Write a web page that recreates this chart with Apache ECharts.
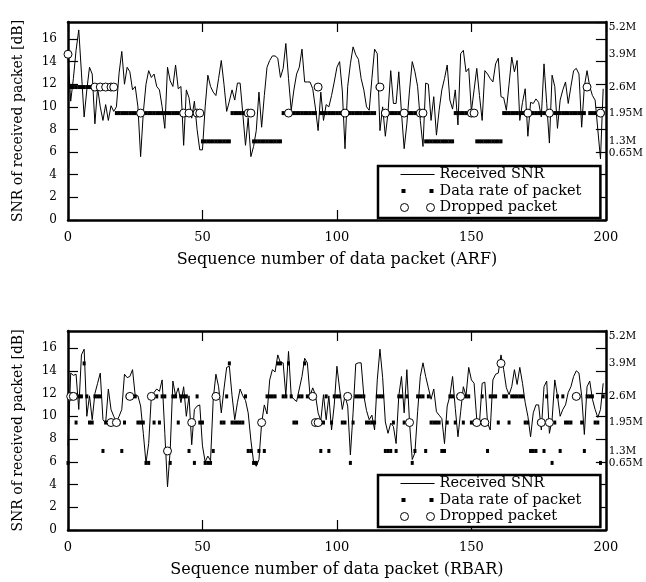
<!DOCTYPE html>
<html><head><meta charset="utf-8">
<script src="https://cdn.jsdelivr.net/npm/echarts@6/dist/echarts.min.js"></script>
<style>html,body{margin:0;padding:0;background:#fff}#c{width:646px;height:582px}</style>
</head><body><div id="c"></div>
<script>
// ---- Data ----
const panelTitles = ['Sequence number of data packet (ARF)', 'Sequence number of data packet (RBAR)'];
const yTitle = 'SNR of received packet [dB]';
const seriesNames = ['Received SNR', 'Data rate of packet', 'Dropped packet'];

// Right-hand rate axis: labels and where they sit on the SNR scale
const rateLabels = ['5.2M', '3.9M', '2.6M', '1.95M', '1.3M', '0.65M'];
const rateMbps = [5.2, 3.9, 2.6, 1.95, 1.3, 0.65];
const rateAxisPos = [17.0, 14.65, 11.75, 9.45, 6.95, 5.9];

// ARF panel
const arfSnr = [
  14.5, 10.5, 12.5, 15, 16.8, 13, 9.1, 11.5, 13.5, 12.9,
  8.5, 11.7, 10, 8.8, 10.2, 8.8, 10.1, 9.6, 10, 13,
  14.9, 12, 13.5, 13.1, 11.5, 11.8, 10, 5.6, 9.5, 12,
  13.2, 12.6, 12.9, 11.8, 11.5, 10, 8.1, 13.5, 12.3, 11.8,
  13.7, 11.6, 11.8, 6.6, 11.5, 10.8, 9, 10.5, 8, 6.2,
  6.2, 10, 12.8, 11.8, 11.3, 11, 12.5, 14.1, 12, 9.6,
  10.5, 11.5, 10.6, 12.1, 12.1, 9.4, 6.6, 9, 5.6, 6.5,
  7.9, 11.3, 8.2, 11, 13.5, 14.1, 14.5, 14.5, 14.3, 12.6,
  13.4, 15.6, 12.5, 9.7, 11.5, 12.9, 13.5, 15.1, 12.2, 12.2,
  12.2, 11.6, 9.9, 7.9, 11.3, 8.8, 10.2, 10, 11, 12.2,
  13.5, 14, 11.4, 6.3, 11.8, 13.8, 15.3, 14.6, 14.2, 12.5,
  11.5, 10, 9.7, 12.5, 15.1, 14.7, 7.9, 10, 7.4, 9.5,
  13.2, 10.3, 10.3, 13.1, 9.5, 6.3, 8.5, 11.5, 14, 13.1,
  11.8, 8.8, 6.5, 12.1, 12, 8.8, 10.9, 7.5, 9.7, 11.5,
  12.5, 13.7, 10.6, 9.8, 11.5, 8.4, 14.7, 15, 13.1, 13.4,
  9.6, 11.5, 13.4, 11, 8.8, 13.2, 12.9, 12.5, 12.2, 13.8,
  14.3, 10.9, 10.8, 9.7, 12, 14.4, 13.1, 14.1, 8.8, 10.4,
  11.6, 7.4, 10.4, 10.3, 10.7, 10.4, 9.1, 13.8, 10.3, 6.8,
  12.8, 11.8, 8.1, 10.6, 11.5, 12.2, 10.3, 11.8, 13.2, 13.4,
  12.9, 8.2, 11.8, 13.2, 11.8, 11, 10.6, 8, 5.4, 11.6
];
const arfRate = [
  3.9, 2.6, 2.6, 2.6, 2.6, 2.6, 2.6, 2.6, 2.6, 2.6,
  2.6, 2.6, 2.6, 2.6, 2.6, 2.6, 2.6, 2.6, 1.95, 1.95,
  1.95, 1.95, 1.95, 1.95, 1.95, 1.95, 1.95, 1.95, 1.95, 1.95,
  1.95, 1.95, 1.95, 1.95, 1.95, 1.95, 1.95, 1.95, 1.95, 1.95,
  1.95, 1.95, 1.95, 1.95, 1.95, 1.95, 1.95, 1.95, 1.95, 1.95,
  1.3, 1.3, 1.3, 1.3, 1.3, 1.3, 1.3, 1.3, 1.3, 1.3,
  1.3, 1.95, 1.95, 1.95, 1.95, 1.95, 1.95, 1.95, 1.95, 1.3,
  1.3, 1.3, 1.3, 1.3, 1.3, 1.3, 1.3, 1.3, 1.3, 1.3,
  1.95, 1.95, 1.95, 1.95, 1.95, 1.95, 1.95, 1.95, 1.95, 1.95,
  1.95, 1.95, 1.95, 2.6, 1.95, 1.95, 1.95, 1.95, 1.95, 1.95,
  1.95, 1.95, 1.95, 1.95, 1.95, 1.95, 1.95, 1.95, 1.95, 1.95,
  1.95, 1.95, 1.95, 1.95, 1.95, 2.6, 2.6, 1.95, 1.95, 1.95,
  1.95, 1.95, 1.95, 1.95, 1.95, 1.95, 1.95, 1.95, 1.95, 1.95,
  1.95, 1.95, 1.95, 1.3, 1.3, 1.3, 1.3, 1.3, 1.3, 1.3,
  1.3, 1.3, 1.3, 1.3, 1.95, 1.95, 1.95, 1.95, 1.95, 1.95,
  1.95, 1.95, 1.3, 1.3, 1.3, 1.3, 1.3, 1.3, 1.3, 1.3,
  1.3, 1.3, 1.95, 1.95, 1.95, 1.95, 1.95, 1.95, 1.95, 1.95,
  1.95, 1.95, 1.95, 1.95, 1.95, 1.95, 1.95, 1.95, 1.95, 1.95,
  1.95, 1.95, 1.95, 1.95, 1.95, 1.95, 1.95, 1.95, 1.95, 1.95,
  1.95, 1.95, 1.95, 2.6, 1.95, 1.95, 1.95, 1.95, 1.95, 1.95
];
const arfDropped = [0, 10, 12, 14, 16, 17, 27, 43, 45, 48, 49, 67, 68, 82, 93, 103, 116, 118, 125, 131, 132, 150, 151, 171, 179, 193, 198];

// RBAR panel
const rbarSnr = [
  7.4, 13.8, 13.6, 13.7, 10.6, 15.4, 15.9, 10, 11.8, 9.7,
  12, 12.9, 13.8, 9.7, 9.4, 12.4, 10.6, 10, 9.5, 10,
  10.6, 13.7, 13.4, 13.5, 14.1, 11.8, 11.8, 10.9, 8.5, 5.9,
  7.6, 11.8, 12.1, 12.4, 12.2, 13.2, 8.5, 3.8, 7, 13.1,
  11.8, 12.5, 11.2, 12.6, 10, 11.8, 7.5, 10.6, 10.9, 11,
  7.4, 6, 6.5, 6.1, 11.5, 13.7, 12.6, 10.3, 12.4, 14.3,
  14.4, 11.8, 9.7, 11.2, 12.4, 11.8, 11.4, 10.3, 7.9, 6,
  5.6, 6.2, 9.4, 11, 10.2, 13.2, 14.1, 13.9, 15.4, 14.7,
  14.7, 11.8, 15.7, 11.8, 11.5, 11.3, 12.4, 13.5, 15.1, 14.7,
  11.8, 12.5, 11.9, 10.3, 9.6, 11.9, 9.7, 11.8, 8.8, 11,
  14.4, 12.4, 10.6, 11.8, 10.9, 6.6, 10.3, 14.6, 14.7, 14.7,
  11.8, 10.5, 9.7, 10.1, 8.8, 13.2, 15.9, 13.4, 9.5, 8.5,
  9.4, 9.1, 7.6, 11.8, 13.5, 10.3, 14.1, 9.4, 6.2, 6.8,
  10.4, 13.5, 14.7, 13.5, 12.5, 11.5, 12.4, 10.4, 10.1, 9.8,
  7.6, 10.9, 11.8, 13.5, 10.7, 8.2, 10.4, 12.6, 11.8, 14.3,
  13.2, 12.9, 9.7, 9.4, 12.9, 13, 9.4, 8.8, 13.2, 13.7,
  13.8, 15.4, 14.1, 12.5, 11.9, 12.6, 14.1, 12.8, 14.3, 12.9,
  11.2, 10, 8.2, 10.3, 11, 11, 8.8, 12.6, 13.1, 8.5,
  9.7, 13.2, 11.8, 10, 10.6, 11, 12.1, 12.6, 13.5, 14,
  13.8, 11.8, 8.4, 12.6, 13.1, 11.5, 10.6, 9.9, 10.6, 12.9
];
const rbarRate = [
  0.65, 2.6, 2.6, 1.95, 2.6, 2.6, 3.9, 2.6, 1.95, 1.95,
  2.6, 2.6, 2.6, 1.3, 1.95, 1.95, 1.95, 1.95, 1.95, 1.95,
  1.3, 1.95, 2.6, 2.6, 2.6, 2.6, 1.95, 1.95, 1.95, 0.65,
  0.65, 2.6, 1.95, 2.6, 1.95, 2.6, 2.6, 1.3, 0.65, 2.6,
  2.6, 1.95, 2.6, 2.6, 2.6, 1.3, 1.95, 0.65, 2.6, 1.95,
  1.95, 0.65, 0.65, 0.65, 1.3, 2.6, 2.6, 1.95, 1.95, 2.6,
  3.9, 1.95, 1.95, 1.95, 1.95, 1.95, 2.6, 1.3, 1.3, 0.65,
  0.65, 1.3, 1.95, 1.3, 2.6, 2.6, 2.6, 2.6, 3.9, 3.9,
  2.6, 2.6, 3.9, 2.6, 1.95, 1.95, 2.6, 2.6, 3.9, 2.6,
  2.6, 2.6, 1.95, 1.95, 1.3, 1.95, 2.6, 1.3, 1.95, 2.6,
  2.6, 2.6, 1.95, 1.95, 2.6, 0.65, 1.95, 2.6, 2.6, 2.6,
  2.6, 1.95, 1.95, 1.95, 1.95, 2.6, 2.6, 2.6, 1.3, 1.3,
  1.3, 1.95, 1.3, 2.6, 2.6, 1.95, 2.6, 1.95, 0.65, 1.3,
  2.6, 2.6, 2.6, 1.3, 2.6, 1.95, 1.95, 1.95, 1.95, 1.3,
  1.3, 1.95, 2.6, 2.6, 1.95, 2.6, 2.6, 1.95, 2.6, 2.6,
  1.95, 1.95, 1.95, 1.95, 2.6, 1.95, 1.3, 2.6, 2.6, 2.6,
  1.95, 3.9, 2.6, 2.6, 1.95, 2.6, 2.6, 2.6, 2.6, 2.6,
  1.95, 1.95, 1.3, 1.3, 1.3, 1.95, 1.95, 1.3, 2.6, 1.95,
  0.65, 1.95, 2.6, 1.3, 2.6, 1.95, 1.95, 1.95, 2.6, 2.6,
  2.6, 1.95, 1.3, 2.6, 2.6, 2.6, 1.95, 1.95, 0.65, 2.6
];
const rbarDropped = [1, 2, 16, 18, 23, 31, 37, 46, 55, 72, 91, 92, 93, 104, 127, 146, 152, 155, 161, 176, 179, 189];

// ---- Chart ----
const F = 'DejaVu Serif';
const BLACK = '#000';
function ratePos(r) { return rateAxisPos[rateMbps.indexOf(r)]; }
function rateLabel(v) {
  let best = 0;
  for (let k = 1; k < rateAxisPos.length; k++) if (Math.abs(rateAxisPos[k] - v) < Math.abs(rateAxisPos[best] - v)) best = k;
  return rateLabels[best];
}

const panels = [
  { snr: arfSnr, rate: arfRate, dropped: arfDropped, top: 22, height: 198, legendTop: 166 },
  { snr: rbarSnr, rate: rbarRate, dropped: rbarDropped, top: 331, height: 199, legendTop: 475 }
];

const frame = { show: true, onZero: false, lineStyle: { color: BLACK, width: 2.5 } };
const tick = { show: true, inside: true, length: 10, lineStyle: { color: BLACK, width: 1.2 } };

const grid = [], xAxis = [], yAxis = [], series = [], legend = [];
panels.forEach((p, k) => {
  grid.push({ left: 68, width: 544, top: p.top, height: p.height });
  xAxis.push({
    gridIndex: k, type: 'value', min: 0, max: 200, interval: 50, position: 'bottom',
    axisLine: frame, axisTick: tick, splitLine: { show: false },
    axisLabel: { fontFamily: F, fontSize: 13, color: BLACK, margin: 11 },
    name: panelTitles[k], nameLocation: 'middle', nameGap: 32,
    nameTextStyle: { fontFamily: F, fontSize: 16, color: BLACK }
  });
  xAxis.push({
    gridIndex: k, type: 'value', min: 0, max: 200, interval: 50, position: 'top',
    axisLine: frame, axisTick: tick, splitLine: { show: false }, axisLabel: { show: false }
  });
  yAxis.push({
    gridIndex: k, type: 'value', min: 0, max: 17.5, interval: 2, position: 'left',
    axisLine: frame, axisTick: tick, splitLine: { show: false },
    axisLabel: { fontFamily: F, fontSize: 12, color: BLACK, margin: 11, showMaxLabel: false },
    name: yTitle, nameLocation: 'middle', nameGap: 43,
    nameTextStyle: { fontFamily: F, fontSize: 14, color: BLACK }
  });
  yAxis.push({
    gridIndex: k, type: 'value', min: 0, max: 17.5, interval: 2, position: 'right',
    axisLine: frame, axisTick: tick, splitLine: { show: false },
    axisLabel: { fontFamily: F, fontSize: 10.5, color: BLACK, margin: 3,
      customValues: rateAxisPos, formatter: v => rateLabel(v) }
  });
  series.push({
    type: 'line', name: seriesNames[0], xAxisIndex: 2 * k, yAxisIndex: 2 * k,
    data: p.snr.map((v, i) => [i, v]), symbol: 'none', silent: true,
    lineStyle: { color: BLACK, width: 1 }, itemStyle: { color: BLACK }, z: 2
  });
  series.push({
    type: 'scatter', name: seriesNames[1], xAxisIndex: 2 * k, yAxisIndex: 2 * k,
    data: p.rate.map((r, i) => [i, ratePos(r)]), symbol: 'rect', symbolSize: [3, 4], silent: true,
    itemStyle: { color: BLACK, opacity: 1 }, z: 3
  });
  series.push({
    type: 'scatter', name: seriesNames[2], xAxisIndex: 2 * k, yAxisIndex: 2 * k,
    data: p.dropped.map(i => [i, ratePos(p.rate[i])]), symbol: 'circle', symbolSize: 8, silent: true,
    itemStyle: { color: '#fff', borderColor: BLACK, borderWidth: 1, opacity: 1 }, z: 4
  });
  legend.push({
    left: 378, top: p.legendTop, orient: 'vertical', selectedMode: false,
    backgroundColor: '#fff', borderColor: BLACK, borderWidth: 2.5, borderRadius: 0,
    padding: [1, 19, 3, 22], itemWidth: 34, itemHeight: 8, itemGap: 1.5,
    textStyle: { fontFamily: F, fontSize: 14.5, color: BLACK },
    data: [
      { name: seriesNames[0], icon: 'path://M0,3.5h34v1h-34z M0,0h0.01v0.01h-0.01z M33.99,7.99h0.01v0.01h-0.01z' },
      { name: seriesNames[1], icon: 'path://M1,2h4v4h-4z M29,2h4v4h-4z M0,0h0.01v0.01h-0.01z M33.99,7.99h0.01v0.01h-0.01z',
        itemStyle: { color: BLACK, opacity: 1 } },
      { name: seriesNames[2], icon: 'path://M0,4a4,4 0 1,0 8,0a4,4 0 1,0 -8,0z M26,4a4,4 0 1,0 8,0a4,4 0 1,0 -8,0z',
        itemStyle: { color: '#fff', borderColor: BLACK, borderWidth: 1, opacity: 1 } }
    ]
  });
});

const chart = echarts.init(document.getElementById('c'), null, { renderer: 'canvas' });
chart.setOption({ animation: false, backgroundColor: '#fff', grid, xAxis, yAxis, series, legend, tooltip: { show: false } });
</script>
</body></html>
